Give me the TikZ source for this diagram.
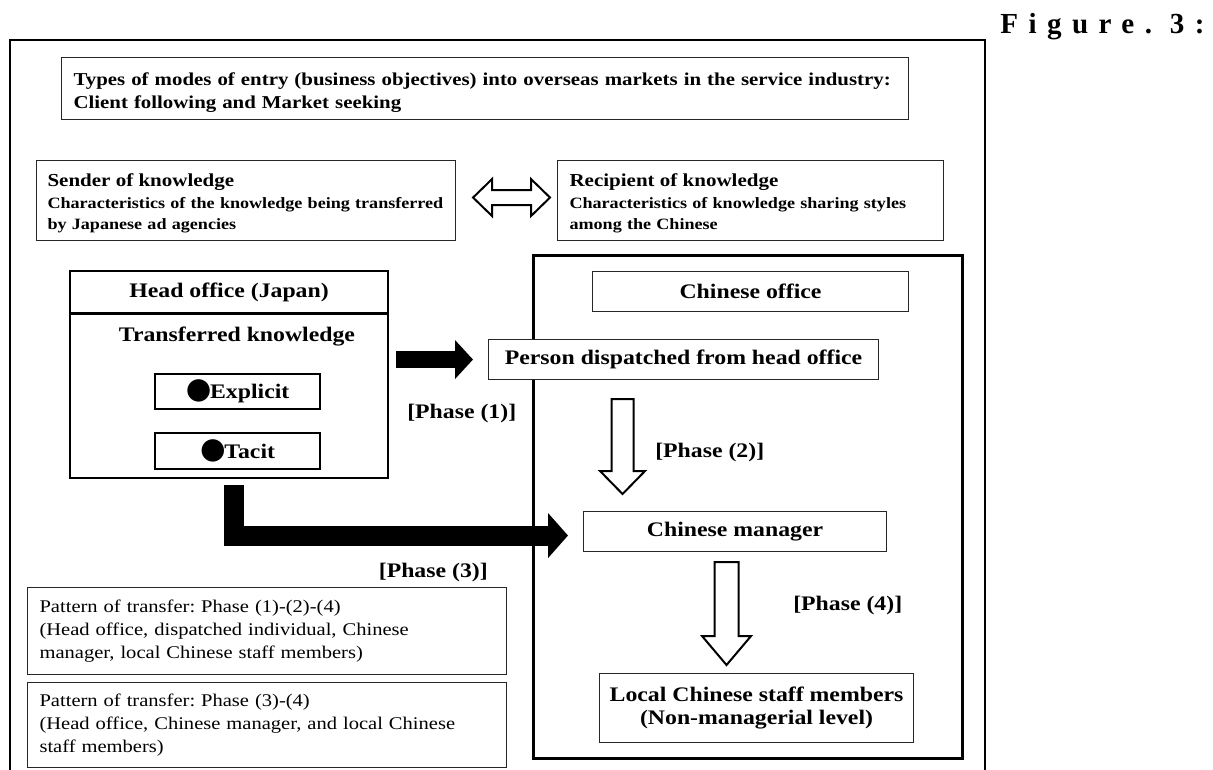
\documentclass[tikz,border=0pt]{standalone}
\usepackage{fontspec}
\setmainfont{Liberation Serif}[FakeStretch=1.15]
\newfontfamily\figfont{Liberation Serif}[LetterSpace=36]
\newfontfamily\symfont{DejaVu Sans}
\usetikzlibrary{arrows.meta,calc}
\newdimen\pxu \pxu=0.75pt
\frenchspacing
% type sizes
\newcommand{\fsTop}{\fontsize{13.6pt}{17.25pt}\selectfont\bfseries}
\newcommand{\fsHead}{\fontsize{13.7pt}{16pt}\selectfont\bfseries}
\newcommand{\fsSub}{\fontsize{11.8pt}{16pt}\selectfont\bfseries}
\newcommand{\fsMain}{\fontsize{15.5pt}{17.25pt}\selectfont\bfseries}
\newcommand{\fsPat}{\fontsize{13.4pt}{17.25pt}\selectfont}
\newcommand{\bigdot}{{\symfont\fontsize{22pt}{22pt}\selectfont ●}}
% hollow downward block arrow: start, tip, half shaft, half head, head length
\newcommand{\hollowdown}[5]{%
  \draw[hollow] ($(#2 |- #1)+(-#3,0)$) -- ($(#2 |- #1)+(#3,0)$)
    -- ($(#2)+(#3,-#5)$) -- ($(#2)+(#4,-#5)$) -- (#2)
    -- ($(#2)+(-#4,-#5)$) -- ($(#2)+(-#3,-#5)$) -- cycle;}
\tikzset{
  thinbox/.style={draw=black!85, line width=0.8pt, inner sep=0pt, anchor=north west},
  boldbox/.style={draw, line width=1.6pt, inner sep=0pt, anchor=north west},
  heavybox/.style={draw, line width=2.2pt, inner sep=0pt, anchor=north west},
  leftbox/.style={thinbox, align=left, inner xsep=12\pxu},
  boxtext/.style={inner sep=0pt, align=left},
  phase/.style={font=\fsMain, inner sep=0pt},
  blk/.style={draw=black, line join=miter},
  hollow/.style={draw=black, fill=white, line width=1.5pt, line join=miter},
}
\begin{document}
\begin{tikzpicture}[x=0.75pt,y=-0.75pt]
\useasboundingbox (0,0) rectangle (1213,769);

% outer frame, open at the bottom
\draw[line width=2.2pt] (10,772) -- (10,40) -- (985,40) -- (985,772);

\node[font=\figfont\bfseries\fontsize{21.8pt}{22pt}\selectfont,
      anchor=base west, inner sep=0pt] (figlabel) at (1000,33) {Figure. 3:};

% entry modes
\node[thinbox, minimum width=847\pxu, minimum height=62\pxu] (modes) at (61,57) {};
\node[boxtext, text width=823\pxu, font=\fsTop] (modestext) at ($(modes.center)+(0,4)$)
  {\mbox{Types of modes of entry (business objectives) into overseas markets in the service industry:}\\
   Client following and Market seeking};

% sender / recipient
\node[thinbox, minimum width=419\pxu, minimum height=80\pxu] (sender) at (36,160) {};
\node[boxtext, text width=397\pxu, font=\fsSub] (sendertext) at ($(sender.center)+(0,3)$)
  {{\fsHead Sender of knowledge}\\
   Characteristics of the knowledge being transferred\\
   by Japanese ad agencies};
\node[thinbox, minimum width=386\pxu, minimum height=80\pxu] (recip) at (557,160) {};
\node[boxtext, text width=362\pxu, font=\fsSub] (reciptext) at ($(recip.center)+(0,3)$)
  {{\fsHead Recipient of knowledge}\\
   Characteristics of knowledge sharing styles\\
   among the Chinese};

\coordinate (dl) at ($(sender.east)+(17,-3)$);
\coordinate (dr) at ($(recip.west)+(-7,-3)$);
\draw[hollow] (dl) -- ($(dl)+(19,-18.5)$) -- ($(dl)+(19,-7.5)$)
  -- ($(dr)+(-19,-7.5)$) -- ($(dr)+(-19,-18.5)$) -- (dr)
  -- ($(dr)+(-19,18.5)$) -- ($(dr)+(-19,7.5)$)
  -- ($(dl)+(19,7.5)$) -- ($(dl)+(19,18.5)$) -- cycle;

% head office
\node[boldbox, minimum width=318\pxu, minimum height=42\pxu, font=\fsMain] (ho) at (69,270)
  {Head office (Japan)};
\node[boldbox, minimum width=318\pxu, minimum height=164\pxu] (tk) at (69,313) {};
\node[font=\fsMain, inner sep=0pt] (tklabel) at (237,336) {Transferred knowledge};
\node[boldbox, minimum width=165\pxu, minimum height=35\pxu, font=\fsMain] (expl) at (154,373)
  {\bigdot\kern-1pt Explicit};
\node[boldbox, minimum width=165\pxu, minimum height=36\pxu, font=\fsMain] (tacit) at (154,432)
  {\bigdot\kern-1pt Tacit};

% Chinese office
\node[heavybox, minimum width=429\pxu, minimum height=503\pxu] (cnoff) at (532,254) {};
\node[thinbox, minimum width=316\pxu, minimum height=40\pxu, font=\fsMain] (colabel) at (592,271)
  {Chinese office};
\node[thinbox, fill=white, minimum width=390\pxu, minimum height=40\pxu, font=\fsMain] (pd) at (488,339)
  {Person dispatched from head office};
\node[thinbox, minimum width=303\pxu, minimum height=40\pxu, font=\fsMain] (cm) at (583,511)
  {Chinese manager};
\node[thinbox, minimum width=314\pxu, minimum height=69\pxu, font=\fsMain, align=center] (ls) at (599,673)
  {Local Chinese staff members\\(Non-managerial level)};

% transfer patterns
\node[leftbox, minimum width=479\pxu, minimum height=87\pxu, text width=455\pxu,
      font=\fsPat] (pat1) at (27,587)
  {Pattern of transfer: Phase (1)-(2)-(4)\\
   (Head office, dispatched individual, Chinese\\
   manager, local Chinese staff members)};
\node[leftbox, minimum width=479\pxu, minimum height=85\pxu, text width=455\pxu,
      font=\fsPat] (pat2) at (27,682)
  {Pattern of transfer: Phase (3)-(4)\\
   (Head office, Chinese manager, and local Chinese\\
   staff members)};

% phase (1): head office to dispatched person
\draw[blk, line width=12.75pt, -{Triangle[length=13.5pt,width=28.5pt]}]
  ($(tk.east |- pd.west)+(7,0)$) -- ($(pd.west)+(-15,0)$);
% phase (3): head office straight to Chinese manager
\draw[blk, line width=15pt, -{Triangle[length=15pt,width=33pt]}]
  ($(tk.south)+(5,6)$) |- ($(cm.west)+(-15,4)$);
% phase (2) and (4)
\coordinate (a2s) at ($(pd.south)+(-61,19)$);
\coordinate (a2t) at ($(cm.north)+(-112.5,-17)$);
\hollowdown{a2s}{a2t}{11}{22.5}{23}
\coordinate (a4s) at ($(cm.south)+(-9.5,10)$);
\coordinate (a4t) at ($(ls.north)+(-30,-8)$);
\hollowdown{a4s}{a4t}{12}{24.5}{29}

\node[phase, anchor=base west] (ph1) at (407,418) {[Phase (1)]};
\node[phase, anchor=base west] (ph2) at (655,457) {[Phase (2)]};
\node[phase, anchor=base east] (ph3) at (488,577) {[Phase (3)]};
\node[phase, anchor=base west] (ph4) at (793,610) {[Phase (4)]};
\end{tikzpicture}
\end{document}
